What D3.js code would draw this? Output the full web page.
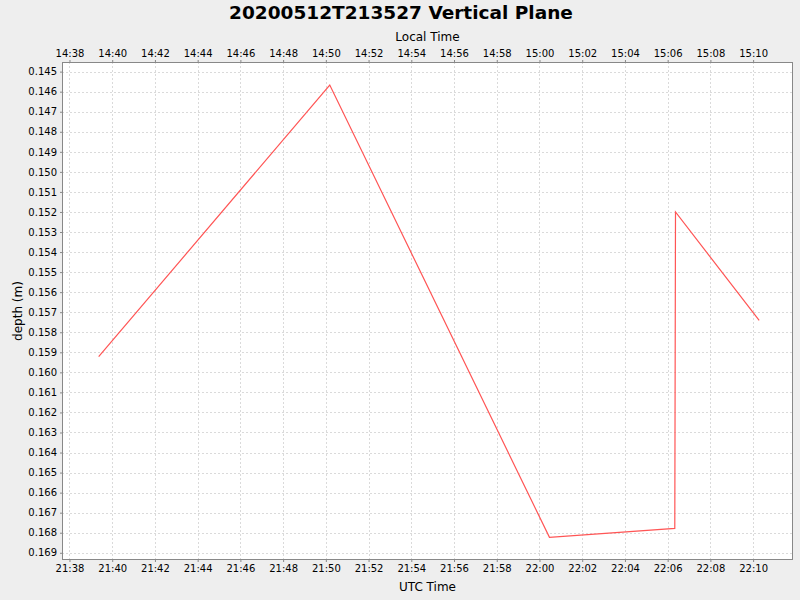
<!DOCTYPE html>
<html>
<head>
<meta charset="utf-8">
<script src="https://cdn.jsdelivr.net/npm/d3@7"></script>
<style>
  body { margin: 0; background: #eeeeee; }
  text { font-family: "DejaVu Sans", sans-serif; fill: #000; }
</style>
</head>
<body>
<div id="chart"></div>
<script>
const MARGIN = { TOP: 62, BOTTOM: 40, LEFT: 62, RIGHT: 7 }
const W = 800, H = 600
const WIDTH = W - MARGIN.LEFT - MARGIN.RIGHT
const HEIGHT = H - MARGIN.TOP - MARGIN.BOTTOM

const TITLE = "20200512T213527 Vertical Plane"
// UTC sample times and depths
const times = ["21:39:22", "21:50:11", "22:00:28", "22:06:20", "22:06:22", "22:10:17"]
const depths = [0.15922, 0.14567, 0.16823, 0.16778, 0.15200, 0.15741]
const timeDomain = ["21:37:39", "22:11:52"]
const depthDomain = [0.14452, 0.16936]
const LOCAL_OFFSET_H = -7

const parse = s => new Date(Date.UTC(2020, 4, 12, ...s.split(":").map(Number)))
const data = times.map((t, i) => ({ t: parse(t), d: depths[i] }))

const svg = d3.select("#chart").append("svg")
  .attr("width", W).attr("height", H)
svg.append("rect").attr("width", W).attr("height", H).attr("fill", "#eeeeee")

const g = svg.append("g")
  .attr("transform", `translate(${MARGIN.LEFT}, ${MARGIN.TOP})`)

const x = d3.scaleUtc().domain(timeDomain.map(parse)).range([0, WIDTH])
const xLocal = d3.scaleUtc()
  .domain(timeDomain.map(parse).map(d => new Date(+d + LOCAL_OFFSET_H * 3600e3)))
  .range([0, WIDTH])
const y = d3.scaleLinear().domain(depthDomain).range([0, HEIGHT])

g.append("rect").attr("width", WIDTH).attr("height", HEIGHT).attr("fill", "#fff")

const xTicks = x.ticks(d3.utcMinute.every(2))
const yTicks = d3.range(145, 170).map(v => v / 1000)

// grid
g.append("g").selectAll("line").data(xTicks).join("line")
  .attr("x1", d => Math.round(x(d)) + 0.5).attr("x2", d => Math.round(x(d)) + 0.5)
  .attr("y1", 0).attr("y2", HEIGHT)
  .attr("stroke", "#dadada").attr("stroke-dasharray", "2,2")
g.append("g").selectAll("line").data(yTicks).join("line")
  .attr("y1", d => Math.round(y(d)) + 0.5).attr("y2", d => Math.round(y(d)) + 0.5)
  .attr("x1", 0).attr("x2", WIDTH)
  .attr("stroke", "#dadada").attr("stroke-dasharray", "2,2")

// series
g.append("path").datum(data)
  .attr("fill", "none").attr("stroke", "#ff5555").attr("stroke-width", 1.2)
  .attr("d", d3.line().x(d => x(d.t)).y(d => y(d.d)))

g.append("rect").attr("x", 0.5).attr("y", 0.5)
  .attr("width", WIDTH - 1).attr("height", HEIGHT - 1)
  .attr("fill", "none").attr("stroke", "#888")

const styleAxis = sel => {
  sel.select(".domain").remove()
  sel.selectAll(".tick line").attr("stroke", "#888")
  sel.selectAll(".tick text").attr("font-size", 10).attr("font-family", "DejaVu Sans, sans-serif")
}

const fmt = d3.utcFormat("%H:%M")
g.append("g").attr("transform", `translate(0, ${HEIGHT})`)
  .call(d3.axisBottom(x).tickValues(xTicks).tickFormat(fmt).tickSize(2).tickPadding(3))
  .call(styleAxis)
g.append("g")
  .call(d3.axisTop(xLocal).ticks(d3.utcMinute.every(2)).tickFormat(fmt).tickSize(2).tickPadding(3))
  .call(styleAxis)
g.append("g")
  .call(d3.axisLeft(y).tickValues(yTicks).tickFormat(d3.format(".3f")).tickSize(2).tickPadding(3))
  .call(styleAxis)

// labels
svg.append("text").attr("x", W / 2 + 1).attr("y", 19)
  .attr("text-anchor", "middle").attr("font-size", 18.5).attr("font-weight", "bold")
  .text(TITLE)
svg.append("text").attr("x", MARGIN.LEFT + WIDTH / 2).attr("y", 41)
  .attr("text-anchor", "middle").attr("font-size", 12).text("Local Time")
svg.append("text").attr("x", MARGIN.LEFT + WIDTH / 2).attr("y", 591)
  .attr("text-anchor", "middle").attr("font-size", 12).text("UTC Time")
svg.append("text").attr("transform", `translate(22, ${MARGIN.TOP + HEIGHT / 2}) rotate(-90)`)
  .attr("text-anchor", "middle").attr("font-size", 12).text("depth (m)")
</script>
</body>
</html>
